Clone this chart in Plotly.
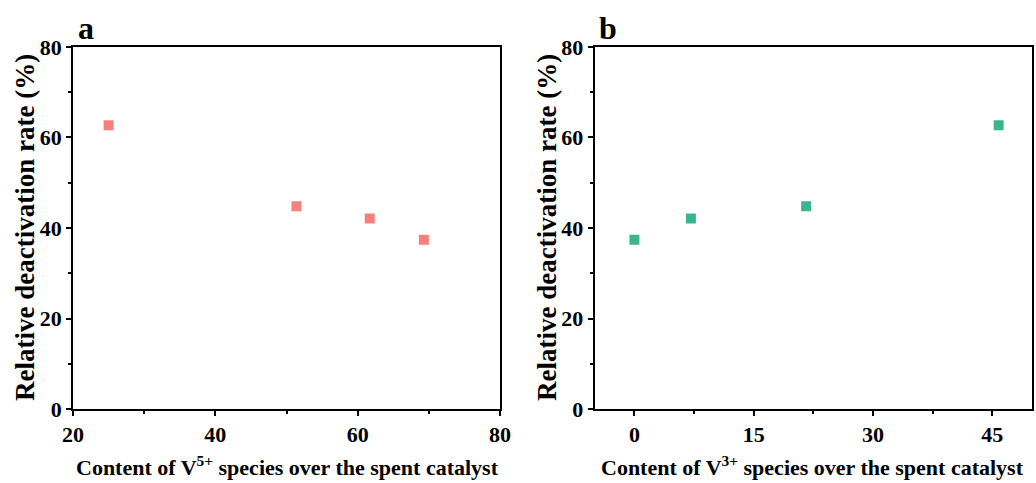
import plotly.graph_objects as go
from plotly.subplots import make_subplots

# Panel a: V5+ content vs relative deactivation rate
v5_content = [25.0, 51.4, 61.7, 69.3]
rate_a = [62.7, 44.8, 42.1, 37.4]

# Panel b: V3+ content vs relative deactivation rate
v3_content = [0.0, 7.1, 21.6, 45.8]
rate_b = [37.4, 42.1, 44.8, 62.7]

xa_ticks = [20, 40, 60, 80]
xb_ticks = [0, 15, 30, 45]
y_ticks = [0, 20, 40, 60, 80]

FONT = "Liberation Serif"
pink = "#F6807B"
green = "#3AB58E"

fig = make_subplots(rows=1, cols=2)
fig.add_trace(go.Scatter(x=v5_content, y=rate_a, mode="markers",
                         marker=dict(symbol="square", size=10, color=pink),
                         showlegend=False), row=1, col=1)
fig.add_trace(go.Scatter(x=v3_content, y=rate_b, mode="markers",
                         marker=dict(symbol="square", size=10, color=green),
                         showlegend=False), row=1, col=2)

tickfont = dict(family=FONT, size=22, color="black", weight="bold")
axis_common = dict(showline=True, linecolor="black", linewidth=2, mirror=True,
                   showgrid=False, zeroline=False, ticks="outside", ticklen=5,
                   tickwidth=2, tickcolor="black", tickfont=tickfont, automargin=False)

fig.update_xaxes(range=[20, 80], tickvals=xa_ticks, domain=[0.0705, 0.4826],
                 minor=dict(ticks="outside", ticklen=3, tickwidth=2, dtick=10, tick0=20, tickcolor="black"),
                 **axis_common, row=1, col=1)
fig.update_xaxes(range=[-5, 50], tickvals=xb_ticks, domain=[0.574, 0.9962],
                 minor=dict(ticks="outside", ticklen=3, tickwidth=2, dtick=7.5, tick0=0, tickcolor="black"),
                 **axis_common, row=1, col=2)
fig.update_yaxes(range=[0, 80], tickvals=y_ticks, domain=[0.1532, 0.9027],
                 minor=dict(ticks="outside", ticklen=3, tickwidth=2, dtick=10, tick0=0, tickcolor="black"),
                 **axis_common)

ytitlefont = dict(family=FONT, size=27, color="black", weight="bold")
xtitlefont = dict(family=FONT, size=22, color="black", weight="bold")
annotations = [
    dict(text="Relative deactivation rate (%)", x=25, y=228, textangle=-90, font=ytitlefont),
    dict(text="Relative deactivation rate (%)", x=547, y=228, textangle=-90, font=ytitlefont),
    dict(text="Content of V<sup>5+</sup> species over the spent catalyst", x=287, y=466, font=xtitlefont),
    dict(text="Content of V<sup>3+</sup> species over the spent catalyst", x=812, y=466, font=xtitlefont),
]
for a in annotations:
    fig.add_annotation(text=a["text"], x=a["x"] / 1036, y=1 - a["y"] / 483,
                       xref="paper", yref="paper", showarrow=False,
                       textangle=a.get("textangle", 0), font=a["font"],
                       xanchor="center", yanchor="middle")

labelfont = dict(family=FONT, size=32, color="black", weight="bold")
fig.add_annotation(text="a", x=86 / 1036, y=1 - 28 / 483, xref="paper", yref="paper",
                   showarrow=False, font=labelfont, xanchor="center", yanchor="middle")
fig.add_annotation(text="b", x=608 / 1036, y=1 - 28 / 483, xref="paper", yref="paper",
                   showarrow=False, font=labelfont, xanchor="center", yanchor="middle")

fig.update_layout(width=1036, height=483, margin=dict(l=0, r=0, t=0, b=0),
                  paper_bgcolor="white", plot_bgcolor="white")

fig.write_html("out.html")
